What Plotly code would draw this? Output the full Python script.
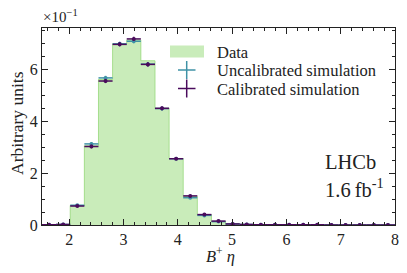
import plotly.graph_objects as go

# Binning: 25 bins of width 0.26 between 1.5 and 8
bin_lo = 1.5
bin_w = 0.26
n_bins = 25
centers = [bin_lo + bin_w * (i + 0.5) for i in range(n_bins)]

# Values in units of 10^-1
data_vals = [0.01, 0.02, 0.75, 3.05, 5.60, 6.97, 7.12, 6.32, 4.49, 2.56, 1.10, 0.40, 0.14,
             0.05, 0.02, 0.01, 0.01, 0.01, 0.01, 0.0, 0.0, 0.0, 0.0, 0.0, 0.0]
uncal_vals = [0.01, 0.02, 0.76, 3.12, 5.66, 6.97, 7.07, 6.19, 4.48, 2.55, 1.05, 0.37, 0.13,
              0.04, 0.02, 0.01, 0.01, 0.01, 0.01, 0.01, 0.0, 0.0, 0.0, 0.0, 0.0]
cal_vals = [0.01, 0.02, 0.73, 3.02, 5.54, 6.95, 7.16, 6.18, 4.49, 2.55, 1.12, 0.40, 0.15,
            0.04, 0.02, 0.01, 0.01, 0.01, 0.01, 0.01, 0.0, 0.0, 0.0, 0.0, 0.0]
uncal_err = [0.01, 0.01, 0.04, 0.07, 0.08, 0.08, 0.08, 0.08, 0.07, 0.05, 0.04, 0.03, 0.02,
             0.01, 0.01, 0.01, 0.01, 0.01, 0.01, 0.01, 0.0, 0.0, 0.0, 0.0, 0.0]
cal_err = [0.01, 0.01, 0.04, 0.07, 0.08, 0.08, 0.08, 0.08, 0.07, 0.05, 0.04, 0.03, 0.02,
           0.01, 0.01, 0.01, 0.01, 0.01, 0.01, 0.01, 0.0, 0.0, 0.0, 0.0, 0.0]

x_ticks = [2, 3, 4, 5, 6, 7, 8]
y_ticks = [0, 2, 4, 6]

GREEN_FILL = "#c9ecba"
GREEN_EDGE = "#a6de8e"
TEAL = "#3f92a6"
PURPLE = "#4a0b5c"
FONT = "Liberation Serif"
INK = "#222"

fig = go.Figure()

fig.add_trace(go.Bar(
    x=centers, y=data_vals, width=[bin_w] * n_bins,
    marker=dict(color=GREEN_FILL, line=dict(width=0)),
    showlegend=False, name="Data"))
fig.add_trace(go.Scatter(
    x=centers, y=data_vals, mode="lines", line=dict(shape="hvh", color=GREEN_EDGE, width=1),
    showlegend=False, hoverinfo="skip"))

for vals, errs, col in [(uncal_vals, uncal_err, TEAL), (cal_vals, cal_err, PURPLE)]:
    fig.add_trace(go.Scatter(
        x=centers, y=vals, mode="markers",
        marker=dict(color=col, size=4),
        error_x=dict(type="constant", value=bin_w / 2, color=col, thickness=1.5, width=0),
        error_y=dict(type="data", array=errs, color=col, thickness=1.5, width=0),
        showlegend=False))

# Page offset (body margin) is 8px; plot area spans window px x 42..395, y 28..225
def px_x(p):
    return (p - 42) / (395 - 42)

def px_y(p):
    return (225 - p) / (225 - 28)

shapes = []
shapes.append(dict(type="rect", xref="paper", yref="paper",
                   x0=px_x(170), x1=px_x(204), y0=px_y(57.5), y1=px_y(45.5),
                   fillcolor=GREEN_FILL, line=dict(color=GREEN_FILL, width=0)))
for cy, col in [(70, TEAL), (88.5, PURPLE)]:
    shapes.append(dict(type="line", xref="paper", yref="paper",
                       x0=px_x(178), x1=px_x(195.5), y0=px_y(cy), y1=px_y(cy),
                       line=dict(color=col, width=1.5)))
    shapes.append(dict(type="line", xref="paper", yref="paper",
                       x0=px_x(186.7), x1=px_x(186.7), y0=px_y(cy - 9), y1=px_y(cy + 9),
                       line=dict(color=col, width=1.5)))

annotations = []
for ty, txt in [(52, "Data"), (70.5, "Uncalibrated simulation"), (89, "Calibrated simulation")]:
    annotations.append(dict(x=px_x(215), y=px_y(ty), xref="paper", yref="paper",
                            text=txt, showarrow=False, xanchor="left", yanchor="middle",
                            font=dict(family=FONT, size=16.5, color=INK)))
annotations.append(dict(x=px_x(324), y=px_y(174), xref="paper", yref="paper",
                        text="LHCb", showarrow=False, xanchor="left", yanchor="bottom",
                        borderpad=0, font=dict(family=FONT, size=20.5, color=INK)))
annotations.append(dict(x=px_x(324), y=px_y(174), xref="paper", yref="paper",
                        text="1.6\u2009fb<sup>-1</sup>", showarrow=False, xanchor="left",
                        yanchor="top", borderpad=0, font=dict(family=FONT, size=20.5, color=INK)))
annotations.append(dict(x=px_x(41), y=px_y(27), xref="paper", yref="paper",
                        text="\u00d710<sup>\u22121</sup>", showarrow=False, xanchor="left",
                        yanchor="bottom", font=dict(family=FONT, size=15, color=INK)))
annotations.append(dict(x=px_x(220), y=px_y(256), xref="paper", yref="paper",
                        text="<i>B</i><sup>+</sup> <i>\u03b7</i>", showarrow=False,
                        xanchor="center", yanchor="middle", borderpad=0,
                        font=dict(family=FONT, size=16.5, color=INK)))
annotations.append(dict(x=px_x(17), y=px_y(123), xref="paper", yref="paper",
                        text="Arbitrary units", showarrow=False, textangle=-90,
                        xanchor="center", yanchor="middle", borderpad=0,
                        font=dict(family=FONT, size=17.5, color=INK)))

axis_common = dict(showline=True, linecolor=INK, linewidth=1.2, mirror="allticks",
                   ticks="inside", ticklen=6, tickwidth=1.2, tickcolor=INK,
                   showgrid=False, zeroline=False, automargin=False,
                   tickfont=dict(family=FONT, size=16, color=INK))

fig.update_layout(
    width=399, height=265,
    margin=dict(l=34, r=12, t=20, b=48),
    paper_bgcolor="white", plot_bgcolor="white",
    barmode="overlay", bargap=0,
    showlegend=False,
    shapes=shapes, annotations=annotations,
    xaxis=dict(range=[1.5, 8], tickvals=x_ticks, ticktext=[str(v) for v in x_ticks],
               minor=dict(dtick=0.2, tick0=0, ticklen=3, tickwidth=1, tickcolor=INK, ticks="inside"),
               **axis_common),
    yaxis=dict(range=[0, 7.58], tickvals=y_ticks, ticktext=[str(v) for v in y_ticks],
               minor=dict(dtick=0.5, tick0=0, ticklen=3, tickwidth=1, tickcolor=INK, ticks="inside"),
               **axis_common),
)

fig.write_html("out.html")
